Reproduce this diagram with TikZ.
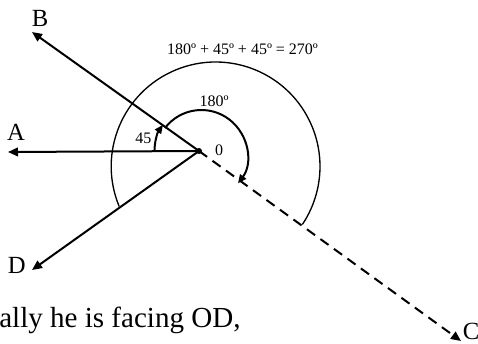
\documentclass[tikz,border=0pt]{standalone}
\usepackage{fontspec}
\setmainfont{Liberation Serif}
\usetikzlibrary{arrows.meta}

\begin{document}
\begin{tikzpicture}[x=0.75pt, y=0.75pt,
  ray/.style={-{Triangle[length=7.5pt, width=6.5pt]}, line width=1.5pt},
  turn/.style={-{Triangle[length=6.5pt, width=5.5pt]}, line width=1.5pt},
  sweep/.style={line width=1pt},
  pointlbl/.style={font=\fontsize{18.5}{22}\selectfont, inner sep=0pt},
  anglbl/.style={font=\fontsize{12}{14}\selectfont, inner sep=0pt}]
\useasboundingbox (0,0) rectangle (478,-343);
\coordinate (O) at (199,-151);
\coordinate (tipA) at (8,-152);
\coordinate (tipB) at (32,-32);
\coordinate (tipD) at (32,-270);
\coordinate (tipC) at (461,-341);
\coordinate (bigc) at (215.6,-166.4);
\coordinate (halfc) at (201.4,-155.8);
\node[pointlbl] (A) at (16,-132.5) {A};
\node[pointlbl] (B) at (40,-18.3) {B};
\node[pointlbl] (D) at (16.7,-265) {D};
\node[pointlbl] (C) at (471,-331) {C};
\node[anglbl] (total) at (242.5,-49.5) {180º + 45º + 45º = 270º};
\node[anglbl] (half) at (214,-101.7) {180º};
\node[anglbl] (acute) at (143.3,-138.3) {45};
\node[anglbl] (zero) at (219,-150) {0};
\node[font=\fontsize{21.8}{26}\selectfont, anchor=base west, inner sep=0pt] (note) at (-1,-327) {ally he is facing OD,};
\draw[ray] (O) -- (tipA);
\draw[ray] (O) -- (tipB);
\draw[ray] (O) -- (tipD);
\draw[ray, dash pattern=on 7.5pt off 5pt] (O) -- (tipC);
\fill (O) circle[radius=3];
% turning arcs
\draw[sweep] (bigc) ++(202.5:104.4) arc[start angle=202.5, end angle=-33.8, radius=104.4];
\draw[turn] (halfc) ++(142.6:45.8) arc[start angle=142.6, end angle=-37, radius=45.8];
\draw[turn] (O) ++(180:44.5) arc[start angle=180, end angle=144, radius=44.5];
\end{tikzpicture}
\end{document}
